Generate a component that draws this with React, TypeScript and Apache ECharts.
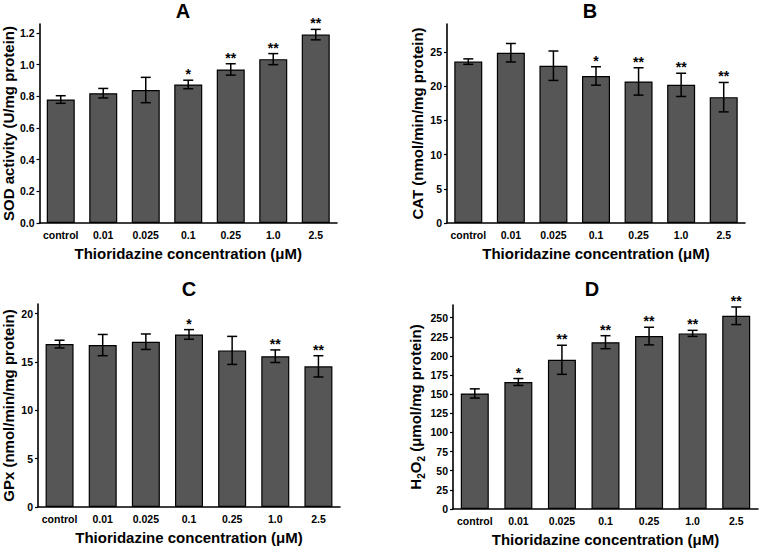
import React, { useEffect, useRef } from "react";
import * as echarts from "echarts";

const categories = ["control", "0.01", "0.025", "0.1", "0.25", "1.0", "2.5"];

const sodMean = [0.78, 0.82, 0.84, 0.875, 0.97, 1.035, 1.19];
const sodErr = [0.024, 0.03, 0.08, 0.027, 0.036, 0.035, 0.033];
const sodStars = ["", "", "", "*", "**", "**", "**"];
const sodTicks = [0, 0.2, 0.4, 0.6, 0.8, 1.0, 1.2];

const catMean = [23.6, 24.9, 23.0, 21.5, 20.7, 20.2, 18.4];
const catErr = [0.4, 1.35, 2.15, 1.35, 2.0, 1.7, 2.15];
const catStars = ["", "", "", "*", "**", "**", "**"];
const catTicks = [0, 5, 10, 15, 20, 25];

const gpxMean = [16.85, 16.75, 17.1, 17.85, 16.2, 15.6, 14.55];
const gpxErr = [0.4, 1.1, 0.8, 0.5, 1.45, 0.65, 1.1];
const gpxStars = ["", "", "", "*", "", "**", "**"];
const gpxTicks = [0, 5, 10, 15, 20];

const h2o2Mean = [151, 166, 195, 218, 226, 229.5, 252.5];
const h2o2Err = [6, 4.5, 19, 8.5, 11.5, 4, 11.5];
const h2o2Stars = ["", "*", "**", "**", "**", "**", "**"];
const h2o2Ticks = [0, 25, 50, 75, 100, 125, 150, 175, 200, 225, 250];

const FONT = "'Liberation Sans', Arial, Helvetica, sans-serif";

const panels = [
  {
    letter: "A",
    name: "SOD activity (U/mg protein)",
    mean: sodMean,
    err: sodErr,
    stars: sodStars,
    ticks: sodTicks,
    max: 1.257,
    fmt: (v: number) => v.toFixed(1),
    grid: { left: 39, right: 424, top: 24, bottom: 326 },
    titleX: 183,
    titleY: 11,
  },
  {
    letter: "B",
    name: "CAT (nmol/min/mg protein)",
    mean: catMean,
    err: catErr,
    stars: catStars,
    ticks: catTicks,
    max: 29.1,
    fmt: (v: number) => String(v),
    grid: { left: 447, right: 16, top: 24, bottom: 326 },
    titleX: 590,
    titleY: 11,
  },
  {
    letter: "C",
    name: "GPx (nmol/min/mg protein)",
    mean: gpxMean,
    err: gpxErr,
    stars: gpxStars,
    ticks: gpxTicks,
    max: 21.0,
    fmt: (v: number) => String(v),
    grid: { left: 38, right: 421, top: 304, bottom: 42 },
    titleX: 189,
    titleY: 289,
  },
  {
    letter: "D",
    name: "H{sub|2}O{sub|2} (μmol/mg protein)",
    mean: h2o2Mean,
    err: h2o2Err,
    stars: h2o2Stars,
    ticks: h2o2Ticks,
    max: 266.6,
    fmt: (v: number) => String(v),
    grid: { left: 453, right: 3, top: 305, bottom: 40 },
    titleX: 592,
    titleY: 289,
  },
];

export default function App() {
  const ref = useRef<HTMLDivElement>(null);
  useEffect(() => {
    if (!ref.current) return;
    const chart = echarts.init(ref.current, null, { renderer: "svg" });
    const grid: any[] = [];
    const xAxis: any[] = [];
    const yAxis: any[] = [];
    const series: any[] = [];
    const graphic: any[] = [];
    panels.forEach((p, i) => {
      grid.push(p.grid);
      xAxis.push({
        type: "category",
        gridIndex: i,
        data: categories,
        axisLine: { lineStyle: { color: "#000", width: 1.6 } },
        axisTick: { show: false },
        axisLabel: {
          interval: 0,
          color: "#000",
          fontFamily: FONT,
          fontWeight: "bold",
          fontSize: 10.5,
          margin: 6,
        },
        name: "Thioridazine concentration (μM)",
        nameLocation: "middle",
        nameGap: 23,
        nameTextStyle: {
          color: "#000",
          fontFamily: FONT,
          fontWeight: "bold",
          fontSize: 15,
        },
      });
      yAxis.push({
        type: "value",
        gridIndex: i,
        min: 0,
        max: p.max,
        splitLine: { show: false },
        axisLine: { show: true, lineStyle: { color: "#000", width: 1.6 } },
        axisTick: {
          show: true,
          length: 3,
          lineStyle: { color: "#000", width: 1.2 },
          customValues: p.ticks,
        },
        axisLabel: {
          color: "#000",
          fontFamily: FONT,
          fontWeight: "bold",
          fontSize: 10.5,
          margin: 5,
          customValues: p.ticks,
          formatter: (v: number) => p.fmt(v),
        },
        name: p.name,
        nameLocation: "middle",
        nameGap: 22,
        nameTextStyle: {
          color: "#000",
          fontFamily: FONT,
          fontWeight: "bold",
          fontSize: 15,
          rich: {
            sub: {
              color: "#000",
              fontFamily: FONT,
              fontWeight: "bold",
              fontSize: 10,
              verticalAlign: "bottom",
              padding: [0, 0, -4, 0],
            },
          },
        },
      });
      series.push({
        type: "bar",
        xAxisIndex: i,
        yAxisIndex: i,
        data: p.mean,
        barWidth: 28,
        itemStyle: { color: "#565656", borderColor: "#000", borderWidth: 1.2 },
      });
      const stars = p.stars;
      series.push({
        type: "custom",
        xAxisIndex: i,
        yAxisIndex: i,
        data: p.mean.map((m, k) => [k, m, m - p.err[k], m + p.err[k]]),
        encode: { x: 0, y: 1 },
        z: 5,
        renderItem: (params: any, api: any) => {
          const x = api.value(0);
          const lo = api.coord([x, api.value(2)]);
          const hi = api.coord([x, api.value(3)]);
          const hw = 5;
          const ls = { stroke: "#000", lineWidth: 1.5 };
          const children: any[] = [
            { type: "line", shape: { x1: lo[0], y1: lo[1], x2: hi[0], y2: hi[1] }, style: ls },
            { type: "line", shape: { x1: lo[0] - hw, y1: lo[1], x2: lo[0] + hw, y2: lo[1] }, style: ls },
            { type: "line", shape: { x1: hi[0] - hw, y1: hi[1], x2: hi[0] + hw, y2: hi[1] }, style: ls },
          ];
          const s = stars[params.dataIndex];
          if (s) {
            children.push({
              type: "text",
              style: {
                text: s,
                x: hi[0],
                y: hi[1] + 1,
                textAlign: "center",
                textVerticalAlign: "bottom",
                fontFamily: FONT,
                fontWeight: "bold",
                fontSize: 14,
                fill: "#000",
              },
            });
          }
          return { type: "group", children };
        },
      });
      graphic.push({
        type: "text",
        x: p.titleX,
        y: p.titleY,
        style: {
          text: p.letter,
          textAlign: "center",
          textVerticalAlign: "middle",
          fontFamily: FONT,
          fontWeight: "bold",
          fontSize: 20,
          fill: "#000",
        },
      });
    });
    chart.setOption({
      animation: false,
      backgroundColor: "#fff",
      grid,
      xAxis,
      yAxis,
      series,
      graphic,
    });
    return () => chart.dispose();
  }, []);
  return (
    <div
      ref={ref}
      style={{ position: "absolute", left: 0, top: 0, width: 761, height: 549 }}
    />
  );
}
